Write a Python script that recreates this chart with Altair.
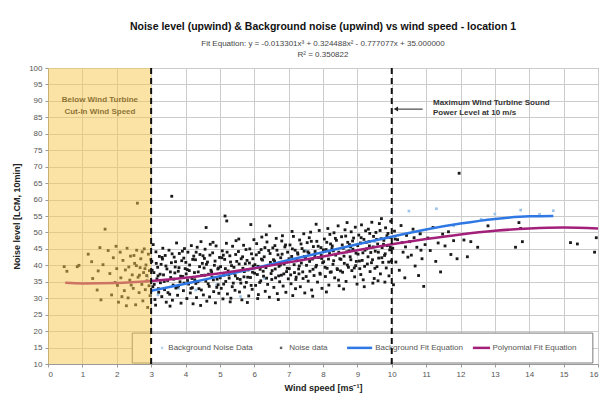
import altair as alt
import pandas as pd

# ---------------- data ----------------
# Noise data (black points) below cut-in (shaded region)
noise_low = [
    (0.47, 39.6), (0.55, 38.2), (0.85, 39.6), (0.90, 40.0), (1.17, 43.4), (1.27, 41.1),
    (1.46, 38.3), (1.54, 29.5), (1.43, 32.5), (1.66, 51.0), (2.60, 58.9), (1.51, 45.4),
    (1.30, 36.0), (1.60, 40.2), (1.75, 44.5), (1.80, 37.5), (1.85, 31.0), (1.90, 42.3),
    (1.95, 34.8), (2.00, 39.0), (2.05, 28.8), (2.10, 44.0), (2.12, 36.2), (2.18, 41.5),
    (2.22, 32.3), (2.25, 38.6), (2.30, 45.2), (2.33, 30.1), (2.38, 35.5), (2.40, 42.8),
    (2.45, 37.1), (2.48, 33.0), (2.52, 40.6), (2.55, 28.0), (2.58, 44.6), (2.62, 36.4),
    (2.65, 31.7), (2.68, 39.3), (2.70, 42.0), (2.73, 34.2), (2.76, 29.2), (2.78, 37.8),
    (2.80, 45.0), (2.83, 32.6), (2.85, 40.1), (2.88, 35.3), (2.90, 27.2), (2.92, 43.4),
    (2.95, 38.4), (2.97, 30.8), (2.99, 41.7), (2.02, 33.9), (2.28, 27.7), (2.57, 39.9),
    (2.74, 44.1), (2.87, 36.9), (1.98, 45.8), (2.15, 30.5), (2.42, 34.0), (2.66, 37.0),
    (2.82, 39.0), (2.94, 33.8), (2.50, 43.0), (2.35, 39.5),
]
# Noise data, main cloud 3 - 10 m/s
noise_main = [
    (3.02, 41.2), (3.05, 33.5), (3.08, 37.8), (3.11, 29.6), (3.14, 44.1), (3.17, 35.9), (3.19, 39.4), (3.22, 31.8), (3.24, 42.7), (3.06, 46.3), (3.13, 27.9), (3.20, 36.8),
    (3.27, 34.7), (3.29, 40.3), (3.31, 30.5), (3.34, 45.2), (3.36, 37.1), (3.39, 32.6), (3.41, 43.0), (3.44, 28.8), (3.46, 38.9), (3.48, 35.4), (3.33, 41.9), (3.60, 61.0),
    (3.52, 44.6), (3.54, 31.2), (3.57, 36.3), (3.59, 40.8), (3.62, 29.4), (3.64, 34.0), (3.67, 42.5), (3.69, 37.7), (3.72, 33.1), (3.74, 46.8), (3.55, 27.6), (3.70, 39.5),
    (3.77, 30.9), (3.79, 38.2), (3.82, 43.6), (3.84, 35.0), (3.87, 28.5), (3.89, 41.4), (3.92, 36.6), (3.94, 32.3), (3.97, 45.1), (3.99, 39.0), (3.80, 33.8), (3.95, 42.2),
    (4.02, 37.4), (4.04, 29.9), (4.07, 44.0), (4.09, 34.3), (4.12, 40.1), (4.14, 31.6), (4.17, 46.0), (4.19, 36.0), (4.22, 28.3), (4.24, 42.8), (4.05, 38.7), (4.20, 33.2),
    (4.27, 35.6), (4.29, 41.7), (4.32, 30.2), (4.34, 45.5), (4.37, 38.0), (4.39, 32.9), (4.42, 43.3), (4.44, 27.8), (4.47, 36.9), (4.49, 40.6), (4.30, 34.5), (4.45, 47.2),
    (4.52, 31.0), (4.54, 39.2), (4.57, 44.9), (4.59, 35.2), (4.62, 29.1), (4.64, 41.0), (4.67, 37.3), (4.69, 33.6), (4.72, 46.4), (4.74, 38.5), (4.55, 42.1), (4.70, 30.4), (4.60, 51.5),
    (4.77, 36.4), (4.79, 43.8), (4.82, 32.0), (4.84, 40.0), (4.87, 28.6), (4.89, 45.9), (4.92, 35.8), (4.94, 38.9), (4.97, 31.5), (4.99, 42.4), (4.80, 47.0), (4.95, 34.1),
    (5.02, 39.6), (5.04, 33.0), (5.07, 44.4), (5.09, 29.8), (5.12, 37.0), (5.14, 41.8), (5.17, 35.1), (5.19, 46.7), (5.22, 31.3), (5.24, 38.3), (5.10, 43.1), (5.20, 53.5), (5.15, 55.0),
    (5.27, 36.1), (5.29, 42.9), (5.32, 30.0), (5.34, 39.9), (5.37, 45.8), (5.39, 34.6), (5.42, 37.6), (5.44, 32.4), (5.47, 47.5), (5.49, 41.2), (5.30, 28.9), (5.45, 36.8),
    (5.52, 38.1), (5.54, 44.2), (5.57, 31.9), (5.59, 35.7), (5.62, 42.0), (5.64, 29.5), (5.67, 39.1), (5.69, 46.1), (5.72, 33.4), (5.74, 40.5), (5.55, 48.0), (5.70, 36.5),
    (5.77, 34.8), (5.79, 41.5), (5.82, 38.6), (5.84, 30.7), (5.87, 45.0), (5.89, 36.3), (5.92, 43.5), (5.94, 32.7), (5.97, 39.8), (5.99, 47.8), (5.80, 28.7), (5.95, 37.9), (5.90, 52.4),
    (6.02, 40.2), (6.04, 33.9), (6.07, 46.6), (6.09, 37.2), (6.12, 31.1), (6.14, 43.9), (6.17, 38.8), (6.19, 35.3), (6.22, 48.6), (6.24, 41.6), (6.10, 29.9), (6.20, 44.8),
    (6.27, 36.7), (6.29, 42.6), (6.32, 32.1), (6.34, 39.3), (6.37, 47.1), (6.39, 34.2), (6.42, 44.5), (6.44, 30.3), (6.47, 40.9), (6.49, 37.5), (6.35, 49.3), (6.45, 52.0),
    (6.52, 38.4), (6.54, 45.3), (6.57, 33.3), (6.59, 41.3), (6.62, 36.2), (6.64, 48.2), (6.67, 31.4), (6.69, 43.2), (6.72, 39.7), (6.74, 35.0), (6.60, 46.0), (6.70, 29.6),
    (6.77, 42.3), (6.79, 37.0), (6.82, 49.0), (6.84, 33.7), (6.87, 40.4), (6.89, 45.6), (6.92, 31.8), (6.94, 38.1), (6.97, 44.0), (6.99, 35.9), (6.80, 47.4), (6.95, 41.0),
    (7.02, 39.0), (7.04, 46.2), (7.07, 34.4), (7.09, 42.7), (7.12, 30.8), (7.14, 48.8), (7.17, 37.8), (7.19, 44.6), (7.22, 36.4), (7.24, 41.4), (7.10, 50.3), (7.20, 32.9),
    (7.27, 43.4), (7.29, 38.9), (7.32, 47.7), (7.34, 33.5), (7.37, 40.7), (7.39, 45.1), (7.42, 36.0), (7.44, 49.6), (7.47, 31.6), (7.49, 42.1), (7.30, 37.4), (7.45, 44.3),
    (7.52, 40.0), (7.54, 46.9), (7.57, 35.2), (7.59, 43.7), (7.62, 38.2), (7.64, 50.1), (7.67, 32.5), (7.69, 41.9), (7.72, 45.7), (7.74, 36.9), (7.60, 48.4), (7.70, 30.6),
    (7.77, 44.2), (7.79, 39.5), (7.82, 47.3), (7.84, 34.9), (7.87, 42.4), (7.89, 50.6), (7.92, 37.3), (7.94, 45.4), (7.97, 33.0), (7.99, 40.8), (7.80, 52.5), (7.95, 43.0),
    (8.02, 41.1), (8.04, 48.0), (8.07, 36.6), (8.09, 44.8), (8.12, 39.1), (8.14, 51.2), (8.17, 34.0), (8.19, 43.6), (8.22, 46.5), (8.24, 38.0), (8.10, 31.9), (8.20, 49.4),
    (8.27, 45.9), (8.29, 40.3), (8.32, 49.9), (8.34, 36.2), (8.37, 43.1), (8.39, 47.6), (8.42, 38.7), (8.44, 52.0), (8.47, 33.8), (8.49, 42.0), (8.30, 44.4), (8.45, 35.5),
    (8.52, 41.8), (8.54, 48.7), (8.57, 37.9), (8.59, 45.2), (8.62, 40.6), (8.64, 50.8), (8.67, 35.1), (8.69, 44.1), (8.72, 47.0), (8.74, 39.4), (8.60, 32.8), (8.70, 53.0),
    (8.77, 46.3), (8.79, 42.6), (8.82, 50.2), (8.84, 38.4), (8.87, 44.9), (8.89, 48.3), (8.92, 36.5), (8.94, 51.6), (8.97, 41.2), (8.99, 34.3), (8.80, 45.7), (8.95, 39.9),
    (9.02, 43.4), (9.04, 49.2), (9.07, 39.0), (9.09, 46.8), (9.12, 52.3), (9.14, 41.5), (9.17, 35.6), (9.19, 47.9), (9.22, 44.6), (9.24, 50.5), (9.10, 37.2), (9.20, 33.5),
    (9.27, 45.0), (9.29, 40.4), (9.32, 51.0), (9.34, 47.2), (9.37, 38.1), (9.39, 43.9), (9.42, 53.1), (9.44, 41.7), (9.47, 48.8), (9.49, 36.0), (9.35, 45.9), (9.45, 34.6),
    (9.52, 44.3), (9.54, 50.0), (9.57, 39.6), (9.59, 46.5), (9.62, 42.2), (9.64, 52.7), (9.67, 37.4), (9.69, 48.1), (9.72, 45.4), (9.74, 40.9), (9.60, 35.3), (9.70, 54.2),
    (9.77, 47.6), (9.79, 43.0), (9.82, 51.4), (9.84, 39.2), (9.87, 46.0), (9.89, 49.7), (9.92, 36.8), (9.94, 44.7), (9.97, 53.4), (9.99, 41.3), (9.80, 34.9), (9.95, 48.5),
]
# Noise data, dense core of the cloud
noise_core = [
    (3.03, 38.5), (3.09, 34.2), (3.15, 40.6), (3.21, 32.9), (3.26, 37.3), (3.32, 42.4), (3.38, 35.1), (3.43, 39.8), (3.49, 31.7),
    (3.56, 38.0), (3.61, 43.5), (3.66, 35.8), (3.71, 41.1), (3.76, 33.4), (3.81, 39.3), (3.86, 36.7), (3.91, 44.3), (3.96, 34.6),
    (4.01, 40.9), (4.06, 35.4), (4.11, 38.4), (4.16, 33.0), (4.21, 41.8), (4.26, 37.8), (4.31, 44.0), (4.36, 35.0), (4.41, 39.6),
    (4.46, 32.5), (4.51, 42.9), (4.56, 37.0), (4.61, 40.3), (4.66, 34.4), (4.71, 43.1), (4.76, 38.0), (4.81, 35.6), (4.86, 41.3),
    (4.91, 33.3), (4.96, 39.2), (5.01, 36.2), (5.06, 42.3), (5.11, 34.3), (5.16, 39.0), (5.21, 44.0), (5.26, 37.1), (5.31, 41.0),
    (5.36, 33.5), (5.41, 39.4), (5.46, 43.3), (5.51, 36.0), (5.56, 40.4), (5.61, 34.6), (5.66, 42.6), (5.71, 38.1), (5.76, 44.8),
    (5.81, 36.4), (5.86, 40.7), (5.91, 33.9), (5.96, 42.0), (6.01, 37.6), (6.06, 43.2), (6.11, 39.7), (6.16, 34.8), (6.21, 41.9),
    (6.26, 38.2), (6.31, 45.4), (6.36, 36.1), (6.41, 40.0), (6.46, 43.6), (6.51, 35.7), (6.56, 41.7), (6.61, 38.9), (6.66, 44.6),
    (6.71, 36.8), (6.76, 40.1), (6.81, 43.4), (6.86, 37.4), (6.91, 46.2), (6.96, 39.1), (7.01, 42.0), (7.06, 37.1), (7.11, 45.0),
    (7.16, 40.2), (7.21, 35.7), (7.26, 43.8), (7.31, 39.8), (7.36, 46.5), (7.41, 38.0), (7.46, 42.7), (7.51, 36.6), (7.56, 44.1),
    (7.61, 41.2), (7.66, 47.3), (7.71, 38.8), (7.76, 43.0), (7.81, 40.0), (7.86, 45.8), (7.91, 37.6), (7.96, 42.1), (8.01, 44.7),
    (8.06, 39.4), (8.11, 47.0), (8.16, 41.9), (8.21, 37.9), (8.26, 45.1), (8.31, 41.4), (8.36, 48.2), (8.41, 39.0), (8.46, 44.0),
    (8.51, 38.3), (8.56, 46.2), (8.61, 42.8), (8.66, 48.9), (8.71, 40.1), (8.76, 44.4), (8.81, 41.7), (8.86, 47.4), (8.91, 39.2),
    (8.96, 43.7), (9.01, 46.0), (9.06, 41.3), (9.11, 48.4), (9.16, 43.8), (9.21, 39.7), (9.26, 47.0), (9.31, 42.6), (9.36, 49.7),
    (9.41, 40.8), (9.46, 45.6), (9.51, 39.1), (9.56, 47.9), (9.61, 44.0), (9.66, 50.6), (9.71, 42.3), (9.76, 46.4), (9.81, 43.5),
    (9.86, 49.0), (9.91, 41.0), (9.96, 45.5),
]
# Noise data above 10 m/s (sparse)
noise_high = [
    (10.03, 45.2), (10.08, 50.4), (10.12, 41.0), (10.17, 47.8), (10.22, 38.5), (10.27, 52.1),
    (10.33, 44.0), (10.38, 36.2), (10.43, 49.1), (10.47, 42.5), (10.05, 34.1), (10.30, 46.9),
    (10.52, 47.2), (10.57, 43.1), (10.62, 51.0), (10.68, 39.8), (10.73, 45.5), (10.78, 36.9),
    (10.83, 49.6), (10.88, 42.0), (10.93, 33.6), (10.97, 46.3), (10.10, 48.0), (10.40, 45.6),
    (10.65, 48.4), (10.85, 44.6),
    (11.05, 48.3), (11.12, 44.5), (11.20, 51.5), (11.28, 41.2), (11.35, 46.8), (11.42, 38.0),
    (11.48, 49.5), (11.55, 45.9), (11.65, 50.2), (11.72, 43.3), (11.80, 47.5), (11.90, 42.0),
    (11.96, 68.0), (12.10, 47.7), (12.20, 42.6), (12.30, 47.2), (12.50, 45.5), (12.80, 52.0),
    (13.60, 45.5), (13.70, 53.0), (13.75, 51.2), (13.80, 47.2), (15.20, 46.9), (15.40, 46.5),
    (15.90, 44.0), (15.95, 48.4),
]
# Background noise data (light blue points)
background = [
    (13.75, 56.8), (14.70, 56.6), (13.00, 55.6), (11.30, 57.2), (10.50, 56.5), (10.00, 56.2),
    (3.40, 35.5), (3.80, 33.0), (4.30, 32.5), (3.20, 31.0), (4.90, 34.0), (5.60, 30.5),
    (6.30, 36.0), (7.50, 44.5), (8.80, 45.0), (9.50, 47.2), (11.80, 52.0), (12.60, 54.0),
    (10.80, 49.5), (14.30, 55.5), (2.90, 36.5),
]
# Background fit curve (blue)
bg_fit_x = [3, 4, 5, 6, 7, 8, 9, 10, 11, 12, 13, 14, 14.7]
bg_fit_y = [32.3, 34.4, 36.7, 39.1, 41.6, 44.0, 46.4, 48.7, 50.9, 52.7, 54.1, 54.9, 55.0]
# Polynomial fit curve (magenta)
poly_x = [0.5, 1, 2, 3, 4, 5, 6, 7, 8, 9, 10, 11, 12, 13, 14, 15, 16]
poly_y = [34.7, 34.5, 34.6, 35.2, 36.2, 37.6, 39.1, 40.9, 42.7, 44.6, 46.4, 48.0, 49.4, 50.5, 51.2, 51.5, 51.2]

cut_in = 3
max_sound = 10
x_ticks = list(range(0, 17))
y_ticks = list(range(10, 105, 5))

title_text = "Noise level (upwind) & Background noise (upwind) vs wind speed - location 1"
subtitle_lines = ["Fit Equation: y = -0.013301x\u00b3 + 0.324488x\u00b2 - 0.777077x + 35.000000",
                  "R\u00b2 = 0.350822"]

# ---------------- build tables ----------------
noise_df = pd.DataFrame(noise_low + noise_main + noise_core + noise_high, columns=["x", "y"])
bg_df = pd.DataFrame(background, columns=["x", "y"])
bgfit_df = pd.DataFrame({"x": bg_fit_x, "y": bg_fit_y})
poly_df = pd.DataFrame({"x": poly_x, "y": poly_y})

X = alt.Scale(domain=[0, 16], nice=False, zero=False)
Y = alt.Scale(domain=[10, 100], nice=False, zero=False)
FONT = "Liberation Sans"

XE = alt.X("x:Q", scale=X, title="Wind speed [ms\u207b\u00b9]",
           axis=alt.Axis(values=x_ticks, format="d"))
YE = alt.Y("y:Q", scale=Y, title="Noise level [LCM, 10min]",
           axis=alt.Axis(values=y_ticks, format="d"))

legend_box_df = pd.DataFrame({"x": [2.45], "x2": [15.85], "y": [10.3], "y2": [19.4]})
legend_box = alt.Chart(legend_box_df).mark_rect(fill="white", stroke="#7a7a7a", strokeWidth=1).encode(
    x=XE, x2="x2:Q", y=YE, y2="y2:Q")

bg_pts = alt.Chart(bg_df).mark_square(size=7, color="#9cc3ea", opacity=1).encode(x=XE, y=YE)
noise_pts = alt.Chart(noise_df).mark_square(size=8, color="#1a1a1a", opacity=1).encode(x=XE, y=YE)

bg_line = alt.Chart(bgfit_df).mark_line(color="#2f78e4", strokeWidth=2.5, interpolate="monotone").encode(
    x=XE, y=YE)
poly_line = alt.Chart(poly_df).mark_line(color="#a3207a", strokeWidth=2.5, interpolate="monotone").encode(
    x=XE, y=YE)

# legend contents
leg_pts_df = pd.DataFrame({"x": [3.32, 6.78], "y": [14.9, 14.9], "c": ["#9cc3ea", "#1e1e1e"]})
leg_pts = alt.Chart(leg_pts_df).mark_square(size=6).encode(
    x=XE, y=YE, color=alt.Color("c:N", scale=None))
leg_lines_df = pd.DataFrame({"x": [8.70, 12.36], "x2": [9.43, 12.86], "y": [14.9, 14.9],
                             "c": ["#2f78e4", "#a3207a"]})
leg_lines = alt.Chart(leg_lines_df).mark_rule(strokeWidth=2.5).encode(
    x=XE, x2="x2:Q", y=YE, color=alt.Color("c:N", scale=None))
leg_text_df = pd.DataFrame({"x": [3.50, 7.02, 9.52, 12.93], "y": [14.9] * 4,
                            "t": ["Background Noise Data", "Noise data", "Background Fit Equation",
                                  "Polynomial Fit Equation"]})
leg_text = alt.Chart(leg_text_df).mark_text(align="left", baseline="middle", fontSize=8, font=FONT,
                                            color="#555555").encode(x=XE, y=YE, text="t:N")

# annotation under cut-in overlay
cut_text_df = pd.DataFrame({"x": [1.51, 1.51], "y": [90.3, 86.6],
                            "t": ["Below Wind Turbine", "Cut-In Wind Speed"]})
cut_text = alt.Chart(cut_text_df).mark_text(align="center", baseline="middle", fontSize=8,
                                            fontWeight="bold", font=FONT, color="#1a1a1a").encode(
    x=XE, y=YE, text="t:N")

# shaded region below cut-in speed (drawn over the data, translucent)
shade_df = pd.DataFrame({"x": [0], "x2": [cut_in], "y": [10], "y2": [100]})
shade = alt.Chart(shade_df).mark_rect(fill="#f8c54c", opacity=0.5).encode(
    x=XE, x2="x2:Q", y=YE, y2="y2:Q")

# dashed vertical lines
vline_df = pd.DataFrame({"x": [cut_in, max_sound], "y": [10, 10], "y2": [100, 100]})
vlines = alt.Chart(vline_df).mark_rule(color="#111111", strokeWidth=2, strokeDash=[6, 4]).encode(
    x=XE, y=YE, y2="y2:Q")

# arrow + label for max sound power level
arrow_df = pd.DataFrame({"x": [10.12], "x2": [10.9], "y": [87.5]})
arrow_line = alt.Chart(arrow_df).mark_rule(color="#222222", strokeWidth=1).encode(
    x=XE, x2="x2:Q", y=YE)
arrow_head = alt.Chart(arrow_df).mark_point(shape="triangle-left", filled=True, size=25,
                                            color="#222222", opacity=1).encode(x=XE, y=YE)
max_text_df = pd.DataFrame({"x": [11.2, 11.2], "y": [89.4, 86.3],
                            "t": ["Maximum Wind Turbine Sound", "Power Level at 10 m/s"]})
max_text = alt.Chart(max_text_df).mark_text(align="left", baseline="middle", fontSize=8,
                                            fontWeight="bold", font=FONT, color="#333333").encode(
    x=XE, y=YE, text="t:N")

chart = alt.layer(
    legend_box, bg_pts, noise_pts, bg_line, poly_line, leg_pts, leg_lines, leg_text, cut_text,
    shade, vlines, arrow_line, arrow_head, max_text,
).properties(
    width=550, height=296,
    title=alt.TitleParams(text=title_text, subtitle=subtitle_lines, anchor="middle", font=FONT,
                          fontSize=10.5, fontWeight="bold", color="#111111",
                          subtitleFont=FONT, subtitleFontSize=8, subtitleColor="#444444",
                          subtitlePadding=8, subtitleLineHeight=11, offset=5),
    autosize=alt.AutoSizeParams(type="none"),
    padding={"left": 48, "top": 68, "right": 8, "bottom": 37},
).configure_view(
    stroke="#9a9a9a", strokeWidth=1
).configure_axis(
    gridColor="#cccccc", gridWidth=1, domainColor="#9a9a9a", tickColor="#9a9a9a", tickSize=3,
    labelFont=FONT, labelFontSize=8, labelColor="#555555", titleFont=FONT, titleFontSize=9,
    titleFontWeight="bold", titleColor="#222222", labelPadding=3,
).configure_axisX(titlePadding=5).configure_axisY(titlePadding=7)

chart.save("out.html", embed_options={"renderer": "svg", "actions": False})
